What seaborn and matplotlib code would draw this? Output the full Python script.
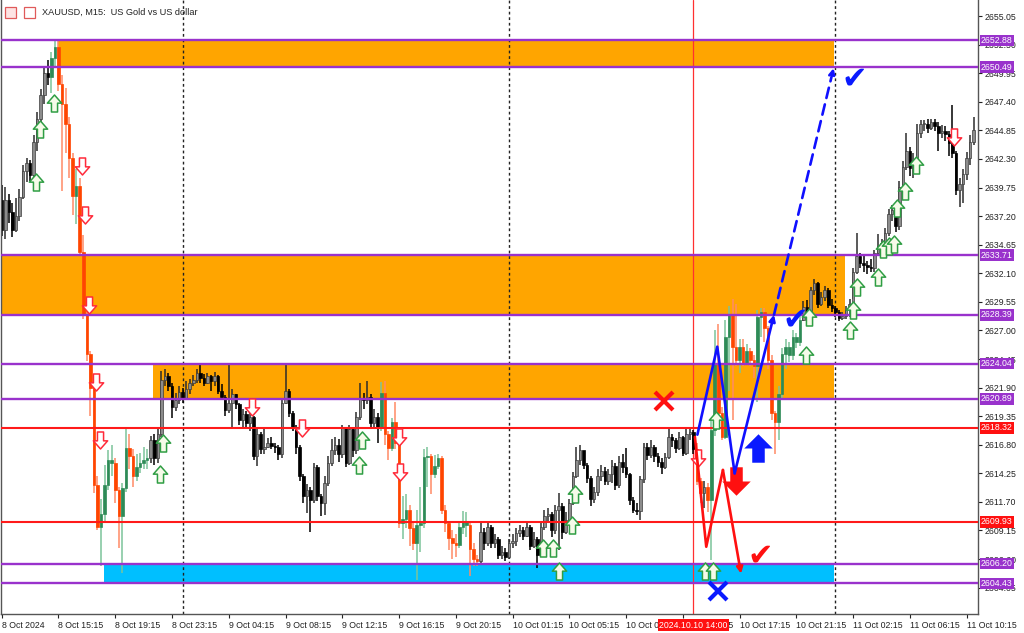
import numpy as np
import seaborn as sns
import matplotlib.pyplot as plt
import matplotlib.transforms as mtransforms
from matplotlib.path import Path
from matplotlib.patches import Rectangle

# XAUUSD M15, 8 Oct 11:15 -> 11 Oct 10:30 (bar index 0..274)
open_first = 2638.6
close = [
    2636.0, 2638.6, 2637.6, 2636.0, 2637.2, 2638.9, 2641.2, 2641.9, 2640.9, 2643.8,
    2645.9, 2648.0, 2650.0, 2649.6, 2651.3, 2652.3, 2649.0, 2647.2, 2645.4, 2642.4,
    2639.0, 2639.9, 2634.0, 2628.4, 2624.9, 2621.9, 2613.2, 2609.5, 2610.6, 2613.2,
    2615.4, 2615.2, 2612.8, 2610.4, 2612.9, 2616.5, 2615.8, 2614.0, 2614.8, 2615.2,
    2615.4, 2615.6, 2617.2, 2615.6, 2617.8, 2622.6, 2622.9, 2622.0, 2620.2, 2620.8,
    2621.5, 2621.0, 2621.8, 2622.3, 2622.6, 2623.2, 2622.8, 2622.3, 2622.9, 2622.5,
    2622.9, 2621.6, 2621.1, 2619.9, 2620.5, 2621.3, 2620.4, 2619.0, 2619.5, 2618.7,
    2619.3, 2615.8, 2617.8, 2616.4, 2616.6, 2617.0, 2616.7, 2616.6, 2616.0, 2620.5,
    2621.6, 2619.6, 2618.4, 2616.6, 2614.0, 2612.2, 2612.8, 2611.9, 2614.8, 2612.2,
    2611.6, 2613.4, 2615.2, 2616.3, 2616.8, 2616.0, 2618.3, 2615.2, 2618.2, 2616.3,
    2619.3, 2621.0, 2620.8, 2621.1, 2618.7, 2619.3, 2618.3, 2621.4, 2617.8, 2616.5,
    2618.8, 2617.0, 2609.8, 2610.2, 2611.0, 2609.4, 2608.0, 2609.6, 2609.8, 2615.7,
    2615.8, 2614.2, 2614.9, 2615.6, 2611.0, 2609.8, 2608.5, 2608.0, 2607.9, 2609.5,
    2609.9, 2609.6, 2607.5, 2606.6, 2606.4, 2609.0, 2608.0, 2609.5, 2608.0, 2608.4,
    2607.0, 2607.2, 2606.8, 2608.0, 2608.2, 2608.9, 2609.2, 2608.7, 2609.5, 2607.8,
    2608.4, 2607.0, 2609.5, 2610.4, 2610.6, 2609.2, 2611.0, 2611.3, 2609.0, 2610.1,
    2611.6, 2614.0, 2615.4, 2616.3, 2615.0, 2613.8, 2612.0, 2612.6, 2614.0, 2614.5,
    2613.6, 2614.2, 2614.9, 2613.2, 2615.3, 2614.8, 2614.2, 2611.9, 2611.0, 2610.9,
    2613.7, 2616.6, 2615.9, 2616.6, 2615.8, 2615.3, 2614.8, 2615.7, 2617.5, 2617.2,
    2616.5, 2617.5, 2616.1, 2617.8, 2617.9, 2616.4, 2613.6, 2612.5, 2613.0, 2611.9,
    2618.1, 2624.1, 2619.6, 2617.5, 2626.4, 2628.5, 2625.5, 2624.4, 2625.5, 2624.1,
    2625.2, 2624.4, 2623.8, 2628.2, 2628.6, 2627.2, 2624.4, 2619.6, 2618.8, 2621.3,
    2624.9, 2625.5, 2624.8, 2626.4, 2626.0, 2627.9, 2629.1, 2628.5, 2630.6, 2631.2,
    2629.4, 2630.0, 2630.6, 2629.3, 2629.0, 2628.6, 2628.1, 2628.3, 2628.8, 2629.4,
    2632.2, 2633.6, 2633.0, 2632.8, 2632.7, 2632.6, 2633.9, 2634.5, 2634.8, 2635.7,
    2637.4, 2637.7, 2636.3, 2639.8, 2641.6, 2643.0, 2641.5, 2642.2, 2644.6, 2645.4,
    2645.4, 2645.1, 2645.6, 2645.2, 2644.6, 2644.8, 2644.5, 2643.7, 2642.8, 2639.5,
    2640.1, 2641.0, 2642.4, 2643.8, 2644.9,
]
high = [
    2640.0, 2639.8, 2639.2, 2638.4, 2638.8, 2639.6, 2641.8, 2642.4, 2642.2, 2644.4,
    2646.5, 2648.5, 2650.6, 2651.1, 2651.8, 2653.0, 2652.9, 2649.8, 2648.6, 2646.0,
    2642.8, 2641.4, 2640.6, 2635.5, 2628.6, 2625.2, 2622.4, 2614.0, 2612.0, 2615.0,
    2616.3, 2616.8, 2615.6, 2613.0, 2613.4, 2618.2, 2617.8, 2616.4, 2616.0, 2616.1,
    2616.6, 2616.4, 2617.6, 2617.8, 2618.3, 2623.4, 2623.6, 2623.2, 2622.3, 2621.4,
    2622.0, 2621.9, 2622.5, 2622.7, 2623.0, 2623.6, 2623.9, 2623.1, 2623.2, 2623.0,
    2623.3, 2623.0, 2622.2, 2621.2, 2624.1, 2621.8, 2621.3, 2620.5, 2620.0, 2619.8,
    2619.8, 2619.4, 2618.2, 2617.9, 2618.4, 2617.4, 2617.5, 2617.0, 2616.8, 2620.8,
    2624.1, 2621.8, 2619.8, 2618.6, 2616.8, 2614.2, 2613.3, 2613.0, 2615.2, 2615.0,
    2612.4, 2614.0, 2615.8, 2617.3, 2617.5, 2617.3, 2618.6, 2618.4, 2618.6, 2618.4,
    2619.7, 2622.3, 2621.4, 2622.5, 2621.3, 2620.0, 2619.6, 2622.4, 2622.5, 2618.0,
    2619.2, 2620.6, 2617.2, 2612.2, 2612.4, 2611.4, 2610.0, 2611.0, 2613.0, 2616.4,
    2616.6, 2616.0, 2615.9, 2616.0, 2615.8, 2611.4, 2610.0, 2609.2, 2608.8, 2610.0,
    2610.9, 2610.8, 2609.8, 2608.0, 2607.0, 2610.0, 2609.4, 2610.0, 2609.6, 2608.8,
    2608.6, 2607.8, 2607.6, 2608.4, 2608.8, 2609.4, 2609.6, 2609.5, 2610.0, 2609.6,
    2609.0, 2608.6, 2609.9, 2611.0, 2611.2, 2610.8, 2611.4, 2612.5, 2611.6, 2610.8,
    2612.0, 2614.4, 2616.6, 2616.8, 2616.2, 2615.2, 2614.0, 2613.0, 2614.6, 2615.0,
    2614.8, 2614.6, 2615.4, 2615.2, 2615.8, 2616.0, 2616.5, 2614.3, 2612.1, 2611.6,
    2614.0, 2617.0, 2617.0, 2617.2, 2616.8, 2616.1, 2615.6, 2616.1, 2618.3, 2617.8,
    2617.4, 2617.9, 2617.6, 2618.3, 2618.2, 2618.1, 2617.0, 2613.8, 2613.6, 2613.4,
    2619.0, 2627.0, 2627.6, 2620.2, 2627.9, 2629.2, 2629.8, 2629.4, 2626.2, 2626.2,
    2625.8, 2625.4, 2624.8, 2628.8, 2629.0, 2629.0, 2627.4, 2624.8, 2619.8, 2622.0,
    2625.4, 2626.2, 2626.0, 2627.0, 2626.8, 2628.6, 2629.6, 2629.7, 2630.9, 2631.6,
    2631.3, 2630.4, 2631.0, 2630.8, 2629.8, 2629.2, 2628.8, 2628.6, 2629.2, 2629.8,
    2632.6, 2635.7, 2633.9, 2633.6, 2633.2, 2633.4, 2634.2, 2635.6, 2635.2, 2636.1,
    2637.8, 2638.2, 2637.8, 2640.3, 2642.1, 2644.6, 2643.4, 2642.8, 2645.4, 2645.8,
    2645.8, 2645.9, 2645.9, 2645.9, 2645.6, 2645.3, 2645.2, 2644.8, 2647.1, 2643.0,
    2640.6, 2641.4, 2642.9, 2644.4, 2646.0,
]
low = [
    2635.4, 2635.2, 2636.6, 2635.3, 2635.8, 2636.8, 2638.7, 2640.2, 2640.3, 2640.6,
    2643.0, 2645.4, 2647.2, 2648.9, 2648.2, 2650.6, 2648.4, 2639.4, 2642.8, 2640.6,
    2637.3, 2636.5, 2633.6, 2628.0, 2624.3, 2619.4, 2612.5, 2609.2, 2606.0, 2609.9,
    2612.8, 2614.0, 2611.6, 2607.6, 2605.4, 2612.6, 2614.6, 2613.0, 2613.6, 2614.3,
    2614.6, 2614.6, 2615.2, 2615.0, 2615.2, 2617.5, 2622.0, 2621.6, 2619.2, 2619.8,
    2620.4, 2620.5, 2620.8, 2621.3, 2622.0, 2622.3, 2622.3, 2622.0, 2622.2, 2621.6,
    2622.0, 2621.3, 2620.8, 2619.4, 2619.6, 2618.4, 2620.0, 2618.6, 2618.2, 2618.3,
    2618.0, 2615.4, 2614.9, 2616.0, 2616.0, 2616.5, 2616.4, 2616.1, 2615.4, 2615.6,
    2620.4, 2619.3, 2618.0, 2616.0, 2613.6, 2611.6, 2610.7, 2609.0, 2611.6, 2611.8,
    2610.4, 2610.5, 2613.1, 2614.9, 2615.9, 2615.3, 2615.6, 2614.8, 2615.0, 2615.7,
    2616.0, 2619.0, 2620.0, 2620.4, 2618.2, 2618.4, 2617.0, 2618.0, 2616.8, 2615.4,
    2616.2, 2616.4, 2609.4, 2608.4, 2609.4, 2607.8, 2607.4, 2604.7, 2607.2, 2609.4,
    2613.0, 2612.4, 2613.8, 2614.6, 2610.6, 2609.0, 2607.4, 2606.6, 2606.8, 2607.6,
    2608.8, 2608.6, 2605.1, 2606.0, 2606.0, 2606.2, 2607.4, 2607.8, 2607.6, 2607.6,
    2606.6, 2606.6, 2606.4, 2606.6, 2607.6, 2607.8, 2608.6, 2608.3, 2608.6, 2607.4,
    2607.6, 2605.8, 2606.8, 2609.2, 2609.8, 2608.6, 2608.8, 2607.4, 2608.4, 2608.8,
    2609.8, 2611.4, 2613.8, 2615.0, 2614.6, 2613.4, 2611.3, 2611.6, 2612.2, 2613.6,
    2613.2, 2613.2, 2613.4, 2612.8, 2612.9, 2614.3, 2613.8, 2611.4, 2610.7, 2610.5,
    2610.1, 2613.4, 2615.4, 2615.6, 2615.3, 2614.8, 2614.2, 2614.6, 2615.5, 2616.6,
    2616.1, 2616.3, 2615.8, 2615.9, 2617.2, 2616.0, 2613.2, 2611.6, 2611.2, 2610.8,
    2606.5, 2617.6, 2618.6, 2617.2, 2617.3, 2621.6, 2619.0, 2623.8, 2623.2, 2623.8,
    2624.2, 2623.8, 2622.8, 2620.6, 2626.4, 2626.0, 2623.6, 2619.0, 2616.0, 2617.2,
    2621.0, 2623.6, 2624.2, 2624.4, 2625.4, 2625.6, 2627.8, 2628.2, 2628.4, 2630.2,
    2629.0, 2629.2, 2629.6, 2629.0, 2628.6, 2628.2, 2627.8, 2627.9, 2628.0, 2628.2,
    2629.8, 2632.0, 2632.6, 2632.2, 2632.0, 2632.2, 2632.2, 2633.6, 2634.0, 2634.6,
    2635.4, 2636.8, 2635.8, 2636.0, 2639.5, 2641.3, 2640.8, 2640.6, 2641.9, 2644.2,
    2644.8, 2644.6, 2644.9, 2644.8, 2643.0, 2644.2, 2643.9, 2642.6, 2642.4, 2639.1,
    2638.0, 2638.4, 2640.4, 2641.8, 2643.5,
]
# indicator colouring of the candles: d = plain, r = red, g = green
candle_tint = [("d", 14), ("g", 2), ("r", 5), ("g", 1), ("r", 6), ("g", 4), ("r", 2),
               ("g", 2), ("r", 2), ("g", 4), ("d", 65), ("g", 1), ("r", 2), ("g", 1),
               ("r", 2), ("g", 2), ("r", 2), ("g", 4), ("r", 1), ("g", 2), ("r", 5),
               ("g", 3), ("r", 3), ("d", 61), ("r", 2), ("d", 1), ("r", 1), ("g", 2),
               ("r", 2), ("g", 2), ("r", 2), ("g", 1), ("r", 1), ("g", 1), ("r", 2),
               ("g", 2), ("r", 4), ("g", 7), ("d", 49)]

time_labels = ["8 Oct 2024", "8 Oct 15:15", "8 Oct 19:15", "8 Oct 23:15", "9 Oct 04:15",
               "9 Oct 08:15", "9 Oct 12:15", "9 Oct 16:15", "9 Oct 20:15", "10 Oct 01:15",
               "10 Oct 05:15", "10 Oct 09:15", "10 Oct 13:15", "10 Oct 17:15",
               "10 Oct 21:15", "11 Oct 02:15", "11 Oct 06:15", "11 Oct 10:15"]
time_ticks = list(range(0, 273, 16))
price_ticks = [2655.05, 2652.50, 2649.95, 2647.40, 2644.85, 2642.30, 2639.75, 2637.20,
               2634.65, 2632.10, 2629.55, 2627.00, 2624.45, 2621.90, 2619.35, 2616.80,
               2614.25, 2611.70, 2609.15, 2606.60, 2604.05]

purple_levels = [2652.88, 2650.49, 2633.71, 2628.39, 2624.04, 2620.89, 2606.20, 2604.43]
red_levels = [2618.32, 2609.93]
# zones: start bar, end bar, low, high, colour
zones = [(15.75, 234.5, 2650.49, 2652.88, "#ffa500"),
         (-1.0, 237.6, 2628.39, 2633.71, "#ffa500"),
         (42.7, 234.5, 2620.89, 2624.04, "#ffa500"),
         (28.7, 234.5, 2604.43, 2606.20, "#00bfff")]
day_separators = [51, 143, 235]
cursor_bar = 195

up_arrows_x = [9.8, 10.7, 14.7, 44.7, 45.6, 100.7, 101.6, 152.7, 155.5, 157.0, 160.7, 161.6,
               198.2, 200.4, 201.4, 226.7, 227.7, 239.0, 240.0, 241.0, 247.0, 248.5, 250.0,
               251.5, 252.5, 254.7, 257.7]
up_arrows_y = [2640.2, 2645.0, 2647.3, 2614.2, 2617.0, 2615.0, 2617.2, 2607.6, 2607.6, 2605.5,
               2609.6, 2612.4, 2605.5, 2605.5, 2619.0, 2624.8, 2628.2, 2627.0, 2628.8, 2630.9,
               2631.8, 2634.3, 2634.5, 2634.7, 2637.9, 2639.4, 2641.8]
down_arrows_x = [22.7, 23.6, 24.5, 26.6, 27.6, 70.5, 84.7, 111.9, 112.4, 196.3, 268.5]
down_arrows_y = [2641.7, 2637.3, 2629.3, 2622.4, 2617.2, 2620.2, 2618.3, 2617.5, 2614.4,
                 2615.6, 2644.3]

blue_path_x = [196.1, 201.7, 206.6, 217.7]
blue_path_y = [2617.7, 2625.55, 2614.25, 2628.4]
blue_target = (234.5, 2650.4)
red_path_x = [195.4, 198.6, 203.3, 208.4]
red_path_y = [2617.5, 2607.7, 2614.55, 2605.3]

sns.set_style("white")
plt.rcParams["font.family"] = ["Liberation Sans", "DejaVu Sans"]

fig = plt.figure(figsize=(10.24, 6.33), dpi=100)
ax = fig.add_axes([1 / 1024, 19 / 633, 977 / 1024, 614 / 633])
ax.set_xlim(-0.2, 275.2)
ax.set_ylim(2601.70, 2656.48)

# zones and vertical separators in the background
for x0, x1, lo, hi, col in zones:
    ax.add_patch(Rectangle((x0, lo), x1 - x0, hi - lo, facecolor=col, edgecolor="none", zorder=0.5))
for b in day_separators:
    ax.axvline(b, color="#222222", lw=1.0, ls=(0, (2, 2)), zorder=0.8)
ax.axvline(cursor_bar, color="#ff3030", lw=0.9, zorder=0.8)

# candles
bars = np.arange(len(close))
c = np.array(close)
o = np.r_[open_first, c[:-1]]
tint = "".join(k * n for k, n in candle_tint)
body_col, edge_col, wick_col = [], [], []
for t, oo, cc in zip(tint, o, c):
    if t == "r":
        body_col.append("#ff4500"); edge_col.append("#ff4500"); wick_col.append("#ff8a66")
    elif t == "g":
        body_col.append("#2e8b57"); edge_col.append("#2e8b57"); wick_col.append("#7cc39a")
    elif cc >= oo:
        body_col.append("#8c8c8c"); edge_col.append("#3c3c3c"); wick_col.append("#2c2c2c")
    else:
        body_col.append("#000000"); edge_col.append("#000000"); wick_col.append("#000000")
ax.vlines(bars, low, high, colors=wick_col, lw=1.1, zorder=2)
ax.bar(bars, np.maximum(np.abs(c - o), 0.08), bottom=np.minimum(o, c), width=0.72,
       color=body_col, edgecolor=edge_col, linewidth=0.5, zorder=2.2)

# level lines
for lv in purple_levels:
    ax.axhline(lv, color="#9932cc", lw=1.7, zorder=3)
for lv in red_levels:
    ax.axhline(lv, color="#ff1a1a", lw=1.5, zorder=3)

# signal arrows
up_verts = [(-0.18, -0.5), (0.18, -0.5), (0.18, 0.02), (0.42, 0.02), (0.0, 0.5),
            (-0.42, 0.02), (-0.18, 0.02), (-0.18, -0.5)]
codes = [Path.MOVETO] + [Path.LINETO] * 6 + [Path.CLOSEPOLY]
up_mark = Path(up_verts, codes)
down_mark = Path([(x, -y) for x, y in up_verts], codes)
sns.scatterplot(x=up_arrows_x, y=up_arrows_y, marker=up_mark, s=150, color="#f6fbe9",
                edgecolor="#2f9e44", linewidth=1.1, ax=ax, zorder=5)
sns.scatterplot(x=down_arrows_x, y=down_arrows_y, marker=down_mark, s=150, color="#ffffff",
                edgecolor="#ff2a3a", linewidth=1.1, ax=ax, zorder=5)

big_verts = [(-0.22, -0.5), (0.22, -0.5), (0.22, 0.0), (0.5, 0.0), (0.0, 0.5),
             (-0.5, 0.0), (-0.22, 0.0), (-0.22, -0.5)]
big_up = Path(big_verts, codes)
big_down = Path([(x, -y) for x, y in big_verts], codes)
sns.scatterplot(x=[213.2], y=[2616.5], marker=big_up, s=420, color="#0a1aff",
                edgecolor="#0a1aff", linewidth=0, ax=ax, zorder=6)
sns.scatterplot(x=[207.0], y=[2613.6], marker=big_down, s=420, color="#ff1010",
                edgecolor="#ff1010", linewidth=0, ax=ax, zorder=6)

# scenario paths
ax.plot(blue_path_x[:-1], blue_path_y[:-1], color="#1010ff", lw=1.9, zorder=6)
ax.annotate("", xy=(blue_path_x[-1], blue_path_y[-1]), xytext=(blue_path_x[-2], blue_path_y[-2]),
            arrowprops=dict(arrowstyle="-|>", color="#1010ff", lw=1.9, mutation_scale=9,
                            shrinkA=0, shrinkB=0), zorder=6)
ax.annotate("", xy=blue_target, xytext=(blue_path_x[-1], blue_path_y[-1]),
            arrowprops=dict(arrowstyle="-|>", color="#1010ff", lw=1.9, ls=(0, (4, 2.5)),
                            mutation_scale=9, shrinkA=0, shrinkB=0), zorder=6)
ax.plot(red_path_x[:-1], red_path_y[:-1], color="#ff1010", lw=1.9, zorder=6)
ax.annotate("", xy=(red_path_x[-1], red_path_y[-1]), xytext=(red_path_x[-2], red_path_y[-2]),
            arrowprops=dict(arrowstyle="-|>", color="#ff1010", lw=1.9, mutation_scale=9,
                            shrinkA=0, shrinkB=0), zorder=6)

ax.plot([186.7], [2620.7], marker="x", ms=13, mew=3, color="#ff1010", zorder=7)
ax.plot([201.9], [2603.76], marker="x", ms=13, mew=3, color="#0a1aff", zorder=7)
for bx, py, col in [(223.6, 2627.9, "#0a1aff"), (240.4, 2649.4, "#0a1aff"), (213.7, 2606.9, "#ff1010")]:
    ax.text(bx, py, "\u2714", color=col, fontsize=22, family="DejaVu Sans",
            ha="center", va="center", zorder=7)

# axes styling
ax.spines["top"].set_visible(False)
for side in ["left", "right", "bottom"]:
    ax.spines[side].set_color("#555555")
    ax.spines[side].set_linewidth(1.0)
ax.yaxis.tick_right()
ax.set_yticks(price_ticks)
ax.set_yticklabels([f"{p:.2f}" for p in price_ticks])
ax.set_xticks(time_ticks)
ax.set_xticklabels(time_labels)
ax.tick_params(axis="y", which="both", right=True, left=False, direction="out", length=3,
               width=0.8, pad=2, labelsize=6.3, colors="#222222")
ax.tick_params(axis="x", which="both", bottom=True, direction="out", length=3, width=0.8,
               pad=2, labelsize=6.3, colors="#222222")
for lab in ax.get_xticklabels():
    lab.set_horizontalalignment("left")
ax.grid(False)

# price boxes on the right scale (they sit over the nearby scale labels, as in MT5)
lab_tr = mtransforms.blended_transform_factory(fig.transFigure, ax.transData)
for lv in purple_levels:
    ax.text(981 / 1024, lv, f"{lv:.2f}", transform=lab_tr, ha="left", va="center", fontsize=6.3,
            color="white", zorder=10, clip_on=False,
            bbox=dict(boxstyle="square,pad=0.15", fc="#9932cc", ec="none"))
for lv in red_levels:
    ax.text(981 / 1024, lv, f"{lv:.2f}", transform=lab_tr, ha="left", va="center", fontsize=6.3,
            color="white", zorder=10, clip_on=False,
            bbox=dict(boxstyle="square,pad=0.15", fc="#ff1010", ec="none"))

# time box of the cursor line
time_tr = mtransforms.blended_transform_factory(ax.transData, ax.transAxes)
ax.text(cursor_bar, -0.018, "2024.10.10 14:00", transform=time_tr, ha="center", va="center",
        fontsize=6.3, color="white", zorder=10, clip_on=False,
        bbox=dict(boxstyle="square,pad=0.15", fc="#ff1010", ec="none"))

# header
fig.patches.append(Rectangle((5 / 1024, 1 - 18 / 633), 11 / 1024, 11 / 633, transform=fig.transFigure,
                             facecolor="#fde3e3", edgecolor="#e05a5a", lw=0.9))
fig.patches.append(Rectangle((24 / 1024, 1 - 18 / 633), 11 / 1024, 11 / 633, transform=fig.transFigure,
                             facecolor="#ffffff", edgecolor="#e05a5a", lw=0.9))
fig.text(42 / 1024, 1 - 12 / 633, "XAUUSD, M15:  US Gold vs US dollar", fontsize=6.6,
         color="#222222", ha="left", va="center")

fig.savefig("out.png", dpi=100)
